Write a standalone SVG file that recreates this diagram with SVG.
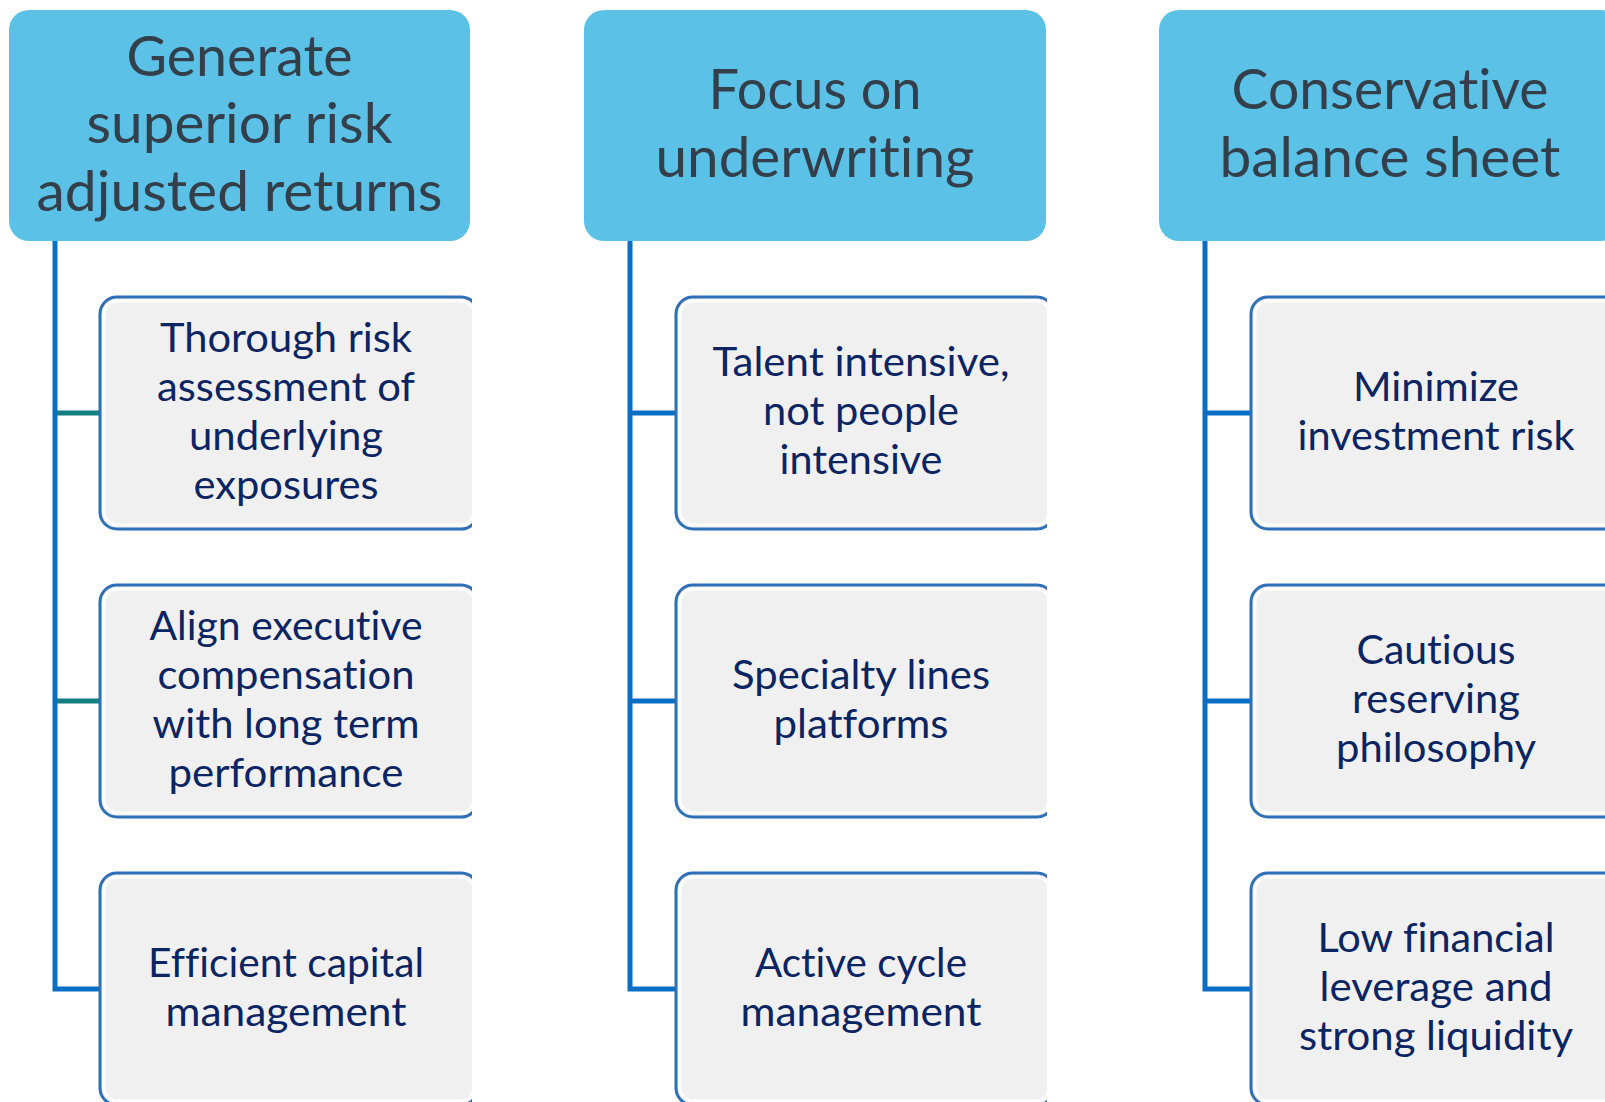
<svg xmlns="http://www.w3.org/2000/svg" width="1605" height="1102" viewBox="0 0 1605 1102">
<style>
text{font-variant-ligatures:none;font-feature-settings:"liga" 0,"clig" 0}
.hdr{fill:#5BC1E6}
.ht{font-family:Lato,"Liberation Sans",sans-serif;font-size:56px;fill:#333F4A;text-anchor:middle}
.box{fill:#F0F0F1;stroke:#2E6FB7;stroke-width:3}
.glow{fill:none;stroke:#FFFFFF;stroke-opacity:0.85;stroke-width:3}
.bt{font-family:Lato,"Liberation Sans",sans-serif;font-size:41px;fill:#0B2462;text-anchor:middle}
.trunk{stroke:#0A6EC4;stroke-width:5;fill:none}
.teal{stroke:#12807E;stroke-width:5;fill:none}
</style>
<defs>
<clipPath id="c1"><rect x="0" y="0" width="472" height="1102"/></clipPath>
<clipPath id="c2"><rect x="520" y="0" width="527" height="1102"/></clipPath>
<clipPath id="c3"><rect x="1100" y="0" width="505" height="1102"/></clipPath>
</defs>
<rect width="1605" height="1102" fill="#FFFFFF"/>

<g id="connectors">
<path class="trunk" d="M55 241 V989 H100"/>
<path class="teal" d="M57 413 H100"/>
<path class="teal" d="M57 701 H100"/>
<path class="trunk" d="M630 241 V989 H676"/>
<path class="trunk" d="M630 413 H676"/>
<path class="trunk" d="M630 701 H676"/>
<path class="trunk" d="M1205 241 V989 H1251"/>
<path class="trunk" d="M1205 413 H1251"/>
<path class="trunk" d="M1205 701 H1251"/>
</g>

<g id="h1" clip-path="url(#c1)">
<rect class="hdr" x="9" y="10" width="461" height="231" rx="20"/>
<text class="ht" x="239.5" y="76" textLength="226" lengthAdjust="spacingAndGlyphs">Generate</text>
<text class="ht" x="239.5" y="143" textLength="306" lengthAdjust="spacingAndGlyphs">superior risk</text>
<text class="ht" x="239.5" y="211" textLength="406" lengthAdjust="spacingAndGlyphs">adjusted returns</text>
</g>
<g id="n1a" clip-path="url(#c1)">
<rect class="box" x="100" y="297" width="378" height="232" rx="17"/>
<rect class="glow" x="104" y="301" width="370" height="224" rx="14"/>
<text class="bt" x="286" y="351.5" textLength="252" lengthAdjust="spacingAndGlyphs">Thorough risk</text>
<text class="bt" x="286" y="400.5" textLength="258" lengthAdjust="spacingAndGlyphs">assessment of</text>
<text class="bt" x="286" y="449.5" textLength="194" lengthAdjust="spacingAndGlyphs">underlying</text>
<text class="bt" x="286" y="498.5" textLength="185" lengthAdjust="spacingAndGlyphs">exposures</text>
</g>
<g id="n1b" clip-path="url(#c1)">
<rect class="box" x="100" y="585" width="378" height="232" rx="17"/>
<rect class="glow" x="104" y="589" width="370" height="224" rx="14"/>
<text class="bt" x="286" y="639.5" textLength="273" lengthAdjust="spacingAndGlyphs">Align executive</text>
<text class="bt" x="286" y="688.5" textLength="257" lengthAdjust="spacingAndGlyphs">compensation</text>
<text class="bt" x="286" y="737.5" textLength="267" lengthAdjust="spacingAndGlyphs">with long term</text>
<text class="bt" x="286" y="786.5" textLength="235" lengthAdjust="spacingAndGlyphs">performance</text>
</g>
<g id="n1c" clip-path="url(#c1)">
<rect class="box" x="100" y="873" width="378" height="232" rx="17"/>
<rect class="glow" x="104" y="877" width="370" height="224" rx="14"/>
<text class="bt" x="286" y="976.5" textLength="276" lengthAdjust="spacingAndGlyphs">Efficient capital</text>
<text class="bt" x="286" y="1025.5" textLength="241" lengthAdjust="spacingAndGlyphs">management</text>
</g>

<g id="h2" clip-path="url(#c2)">
<rect class="hdr" x="584" y="10" width="462" height="231" rx="20"/>
<text class="ht" x="815" y="109" textLength="213" lengthAdjust="spacingAndGlyphs">Focus on</text>
<text class="ht" x="815" y="177" textLength="319" lengthAdjust="spacingAndGlyphs">underwriting</text>
</g>
<g id="n2a" clip-path="url(#c2)">
<rect class="box" x="676" y="297" width="378" height="232" rx="17"/>
<rect class="glow" x="680" y="301" width="370" height="224" rx="14"/>
<text class="bt" x="861" y="376" textLength="297" lengthAdjust="spacingAndGlyphs">Talent intensive,</text>
<text class="bt" x="861" y="425" textLength="196" lengthAdjust="spacingAndGlyphs">not people</text>
<text class="bt" x="861" y="474" textLength="163" lengthAdjust="spacingAndGlyphs">intensive</text>
</g>
<g id="n2b" clip-path="url(#c2)">
<rect class="box" x="676" y="585" width="378" height="232" rx="17"/>
<rect class="glow" x="680" y="589" width="370" height="224" rx="14"/>
<text class="bt" x="861" y="688.5" textLength="258" lengthAdjust="spacingAndGlyphs">Specialty lines</text>
<text class="bt" x="861" y="737.5" textLength="175" lengthAdjust="spacingAndGlyphs">platforms</text>
</g>
<g id="n2c" clip-path="url(#c2)">
<rect class="box" x="676" y="873" width="378" height="232" rx="17"/>
<rect class="glow" x="680" y="877" width="370" height="224" rx="14"/>
<text class="bt" x="861" y="976.5" textLength="212" lengthAdjust="spacingAndGlyphs">Active cycle</text>
<text class="bt" x="861" y="1025.5" textLength="241" lengthAdjust="spacingAndGlyphs">management</text>
</g>

<g id="h3" clip-path="url(#c3)">
<rect class="hdr" x="1159" y="10" width="462" height="231" rx="20"/>
<text class="ht" x="1390" y="109" textLength="317" lengthAdjust="spacingAndGlyphs">Conservative</text>
<text class="ht" x="1390" y="177" textLength="341" lengthAdjust="spacingAndGlyphs">balance sheet</text>
</g>
<g id="n3a" clip-path="url(#c3)">
<rect class="box" x="1251" y="297" width="378" height="232" rx="17"/>
<rect class="glow" x="1255" y="301" width="370" height="224" rx="14"/>
<text class="bt" x="1436" y="400.5" textLength="166" lengthAdjust="spacingAndGlyphs">Minimize</text>
<text class="bt" x="1436" y="449.5" textLength="277" lengthAdjust="spacingAndGlyphs">investment risk</text>
</g>
<g id="n3b" clip-path="url(#c3)">
<rect class="box" x="1251" y="585" width="378" height="232" rx="17"/>
<rect class="glow" x="1255" y="589" width="370" height="224" rx="14"/>
<text class="bt" x="1436" y="664" textLength="159" lengthAdjust="spacingAndGlyphs">Cautious</text>
<text class="bt" x="1436" y="713" textLength="168" lengthAdjust="spacingAndGlyphs">reserving</text>
<text class="bt" x="1436" y="762" textLength="200" lengthAdjust="spacingAndGlyphs">philosophy</text>
</g>
<g id="n3c" clip-path="url(#c3)">
<rect class="box" x="1251" y="873" width="378" height="232" rx="17"/>
<rect class="glow" x="1255" y="877" width="370" height="224" rx="14"/>
<text class="bt" x="1436" y="952" textLength="237" lengthAdjust="spacingAndGlyphs">Low financial</text>
<text class="bt" x="1436" y="1001" textLength="233" lengthAdjust="spacingAndGlyphs">leverage and</text>
<text class="bt" x="1436" y="1050" textLength="274" lengthAdjust="spacingAndGlyphs">strong liquidity</text>
</g>
</svg>
